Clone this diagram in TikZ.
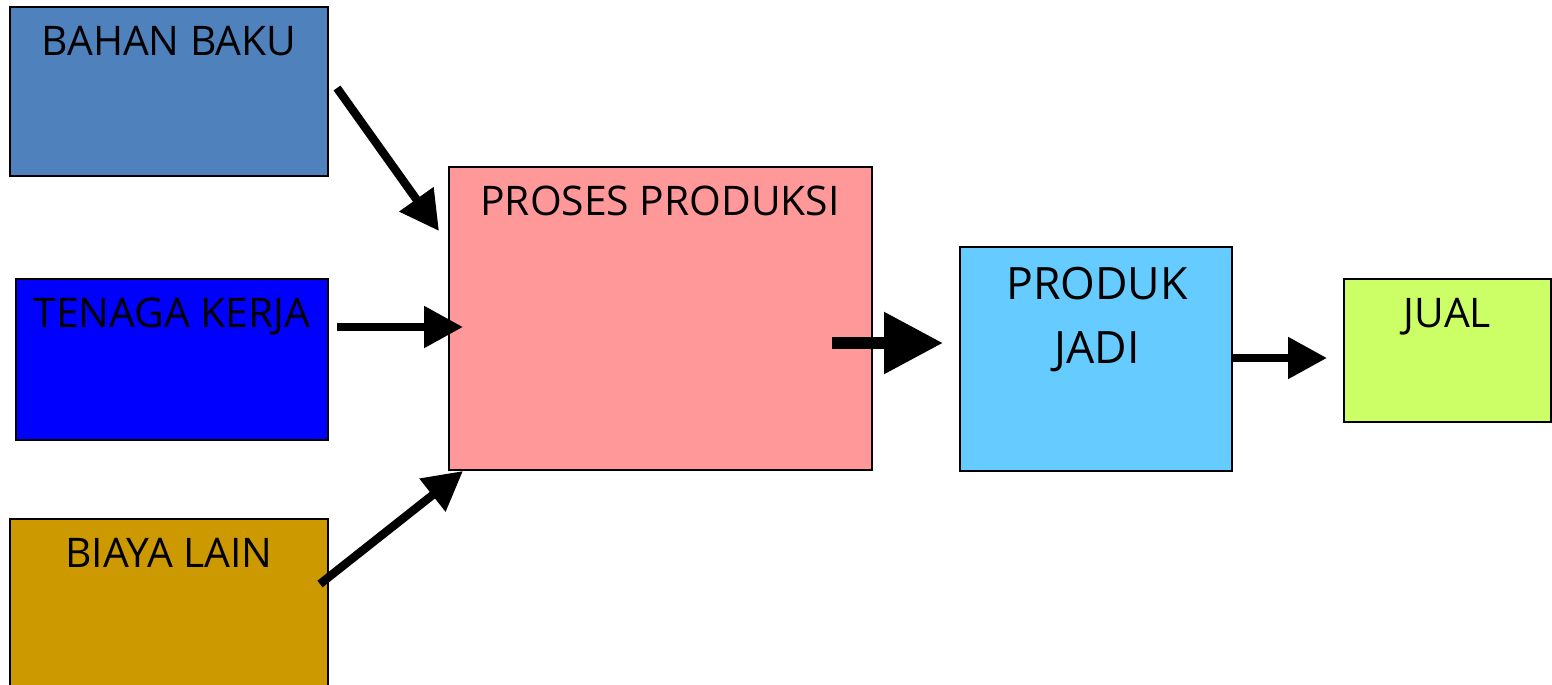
\documentclass[tikz,border=0pt]{standalone}
\usepackage{fontspec}
\setmainfont{Open Sans}
\usetikzlibrary{arrows.meta,calc}

\definecolor{cBahan}{HTML}{4F81BD}
\definecolor{cTenaga}{HTML}{0000FF}
\definecolor{cBiaya}{HTML}{CC9900}
\definecolor{cProses}{HTML}{FF9999}
\definecolor{cProduk}{HTML}{66CCFF}
\definecolor{cJual}{HTML}{CCFF66}

\tikzset{
  box/.style={draw=black, line width=1pt, rectangle, inner sep=0pt, outer sep=0pt, anchor=north west},
  lbl/.style={inner sep=0pt, anchor=base, font=\fontsize{20.4}{28}\selectfont},
  flow/.style={line width=4.2pt, -{Triangle[length=19.5pt,width=20pt]}},
  bigflow/.style={line width=6pt, -{Triangle[length=29.5pt,width=29.5pt]}},
}

\begin{document}
\begin{tikzpicture}[x=0.5pt, y=-0.5pt]
\useasboundingbox (0,0) rectangle (1552,685);

% boxes
\node[box, fill=cBahan,  minimum width=159pt,   minimum height=84.5pt]  (bahan)  at (10,7) {};
\node[box, fill=cTenaga, minimum width=156pt,   minimum height=80.5pt]  (tenaga) at (16,279) {};
\node[box, fill=cBiaya,  minimum width=159pt,   minimum height=90.5pt]  (biaya)  at (10,519) {};
\node[box, fill=cProses, minimum width=211.5pt, minimum height=151.5pt] (proses) at (449,167) {};
\node[box, fill=cProduk, minimum width=136pt,   minimum height=112pt]   (produk) at (960,247) {};
\node[box, fill=cJual,   minimum width=103.5pt, minimum height=71.5pt]  (jual)   at (1344,279) {};

% titles
\node[lbl] (bahanT)  at (169,55)    {BAHAN BAKU};
\node[lbl] (tenagaT) at (172,327)   {TENAGA KERJA};
\node[lbl] (biayaT)  at (169,567)   {BIAYA LAIN};
\node[lbl] (prosesT) at (660,215)   {PROSES PRODUKSI};
\node[inner sep=0pt, anchor=north, align=center, font=\fontsize{22.3}{32}\selectfont]
      (produkT) at (1097,267) {PRODUK\\JADI};
\node[lbl] (jualT)   at (1447.5,327) {JUAL};

% connector ends
\coordinate (a1s) at ([shift={(9,81)}]bahan.north east);
\coordinate (a1e) at ([shift={(-10,64)}]proses.north west);
\coordinate (a2s) at ([shift={(9,48)}]tenaga.north east);
\coordinate (a2e) at ([shift={(14,8.5)}]proses.west);
\coordinate (a3s) at ([shift={(-8,65)}]biaya.north east);
\coordinate (a3e) at ([shift={(14,1)}]proses.south west);
\coordinate (a4s) at ([shift={(-40,24.5)}]proses.east);
\coordinate (a4e) at ([shift={(-17,-16)}]produk.west);
\coordinate (a5s) at ([shift={(0,-1)}]produk.east);
\coordinate (a5e) at ([shift={(-17,7.5)}]jual.west);

% connectors
\draw[flow] (a1s) -- (a1e);
\draw[flow] (a2s) -- (a2e);
\draw[flow] (a3s) -- (a3e);
\draw[bigflow] (a4s) -- (a4e);
\draw[flow] (a5s) -- (a5e);
\end{tikzpicture}
\end{document}
